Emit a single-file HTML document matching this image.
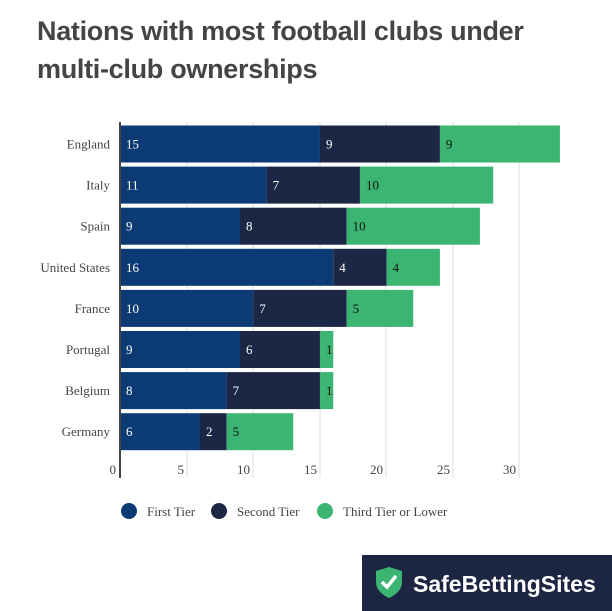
<!DOCTYPE html>
<html><head><style>
body{margin:0;width:612px;height:611px;background:#fff;font-family:"Liberation Serif",serif;position:relative;overflow:hidden}
.t{position:absolute;left:37px;top:12px;font:bold 27px/38px "Liberation Sans",sans-serif;color:#444;letter-spacing:-0.3px}
</style></head><body>
<div class="t">Nations with most football clubs under<br>multi-club ownerships</div>
<svg width="612" height="611" style="position:absolute;left:0;top:0" font-family="Liberation Serif, serif">
<g stroke="#ddd" stroke-width="1">
<line x1="187" y1="122" x2="187" y2="478"/><line x1="253" y1="122" x2="253" y2="478"/><line x1="320" y1="122" x2="320" y2="478"/><line x1="386" y1="122" x2="386" y2="478"/><line x1="453" y1="122" x2="453" y2="478"/><line x1="519" y1="122" x2="519" y2="478"/>
</g>
<g id="bars" font-size="13" text-anchor="start"></g>
<line x1="120" y1="122" x2="120" y2="478" stroke="#444" stroke-width="2"/>
<g font-size="13" fill="#444" text-anchor="end">
<text x="116" y="474">0</text><text x="184" y="474">5</text><text x="250" y="474">10</text><text x="317" y="474">15</text><text x="383" y="474">20</text><text x="450" y="474">25</text><text x="516" y="474">30</text>
</g>
<g font-size="13" fill="#444">
<circle cx="129" cy="511" r="8" fill="#0b3a75"/><text x="147" y="516">First Tier</text>
<circle cx="219" cy="511" r="8" fill="#1c2645"/><text x="237" y="516">Second Tier</text>
<circle cx="325" cy="511" r="8" fill="#3db572"/><text x="343" y="516">Third Tier or Lower</text>
</g>
<rect x="362" y="555" width="250" height="56" fill="#1c2541"/>
<path d="M376 571 L389 567 L402 571 L402 582 Q402 592 389 598 Q376 592 376 582 Z" fill="#3db572"/>
<path d="M382 582 L387 587 L396 576" stroke="#fff" stroke-width="3.5" fill="none"/>
<text x="413" y="592" font-family="Liberation Sans, sans-serif" font-weight="bold" font-size="23" fill="#fff">SafeBettingSites</text>
</svg>
<script>
var d=[["England",15,9,9],["Italy",11,7,10],["Spain",9,8,10],["United States",16,4,4],["France",10,7,5],["Portugal",9,6,1],["Belgium",8,7,1],["Germany",6,2,5]];
var s="",u=13.33,c=["#0b3a75","#1c2645","#3db572"],tc=["#fff","#fff","#111"];
d.forEach(function(r,i){var cy=144+i*41.1,y=cy-18.5,x=120;
s+='<text x="110" y="'+(cy+4.5)+'" text-anchor="end" fill="#444">'+r[0]+'</text>';
for(var k=1;k<4;k++){var w=r[k]*u;s+='<rect x="'+x+'" y="'+y+'" width="'+w+'" height="37" fill="'+c[k-1]+'"/>';
s+='<text x="'+(x+6)+'" y="'+(cy+4.5)+'" fill="'+tc[k-1]+'">'+r[k]+'</text>';x+=w;}});
document.getElementById("bars").innerHTML=s;
</script>
</body></html>
